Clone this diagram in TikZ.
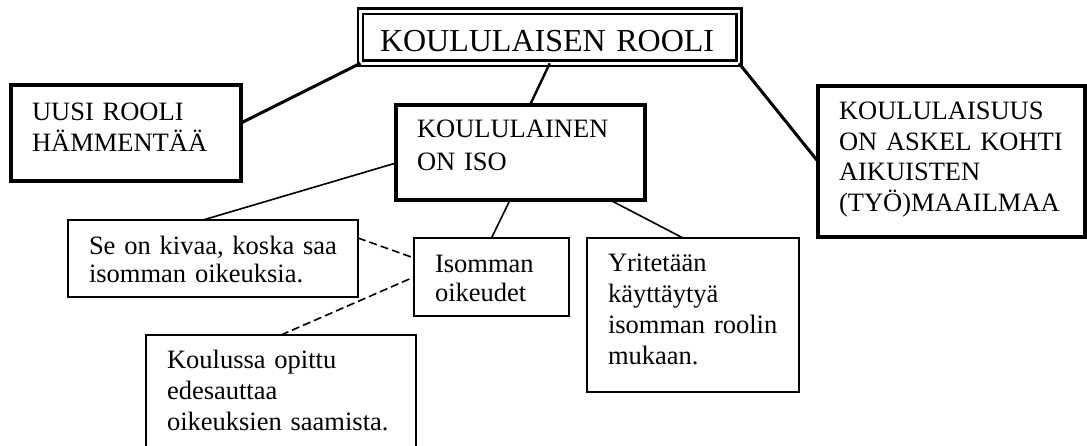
\documentclass[tikz,border=0pt]{standalone}
\usepackage{fontspec}
\setmainfont{Liberation Serif}
\begin{document}
\begin{tikzpicture}[x=1pt,y=-1pt,
  bx/.style={draw, rectangle, anchor=north west, inner xsep=21pt, inner ysep=0pt,
    outer sep=0pt, align=left, font=\fontsize{26.5}{31}\selectfont},
  thickbx/.style={bx, line width=3.5pt},
  thinbx/.style={bx, line width=1.6pt},
  titlebx/.style={draw, rectangle, anchor=north west, inner xsep=19.5pt, inner ysep=0pt,
    outer sep=0pt, align=left, double, double distance=2.7pt, line width=2.5pt,
    font=\fontsize{32}{38}\selectfont},
  heavylink/.style={line width=3pt},
  midlink/.style={line width=2.4pt},
  thinlink/.style={line width=1.6pt},
  dashlink/.style={line width=1.6pt, dash pattern=on 8pt off 4pt}
]
\useasboundingbox (0,0) rectangle (1087,446);
\clip (0,0) rectangle (1087,446);

\node[titlebx, text width=339.5pt, text height=40.7pt, text depth=11.3pt] (title) at (360.5,11.3)
  {\mbox{KOULULAISEN ROOLI}};

\node[thickbx, text width=188pt, text height=36pt, text depth=60pt] (uusi) at (11,85)
  {\mbox{UUSI ROOLI}\\\mbox{HÄMMENTÄÄ}};

\node[thickbx, text width=207pt, text height=33pt, text depth=62pt,
  font=\fontsize{26.5}{32.5}\selectfont] (mid) at (396,105)
  {\mbox{KOULULAINEN}\\\mbox{ON ISO}};

\node[thickbx, text width=225pt, text height=34pt, text depth=117pt,
  font=\fontsize{26.5}{30.5}\selectfont] (right) at (818,86)
  {\mbox{KOULULAISUUS}\\\mbox{ON ASKEL KOHTI}\\\mbox{AIKUISTEN}\\\mbox{(TYÖ)MAAILMAA}};

\node[thinbx, text width=248pt, text height=35pt, text depth=42pt,
  font=\fontsize{26.5}{28}\selectfont] (seon) at (68,220)
  {\mbox{Se on kivaa, koska saa}\\\mbox{isomman oikeuksia.}};

\node[thinbx, text width=113pt, text height=35pt, text depth=43pt,
  font=\fontsize{26.5}{29}\selectfont] (isomman) at (414,238)
  {\mbox{Isomman}\\\mbox{oikeudet}};

\node[thinbx, text width=170pt, text height=34pt, text depth=120pt] (yrit) at (587,238)
  {\mbox{Yritetään}\\\mbox{käyttäytyä}\\\mbox{isomman roolin}\\\mbox{mukaan.}};

\node[thinbx, text width=228pt, text height=33pt, text depth=97pt] (koulussa) at (146,335)
  {\mbox{Koulussa opittu}\\\mbox{edesauttaa}\\\mbox{oikeuksien saamista.}};

\draw[heavylink] (title.south west) -- ([yshift=10pt]uusi.east);
\draw[midlink] (title.south) -- ([xshift=9.5pt]mid.north);
\draw[heavylink] (title.south east) -- (right.west);
\draw[thinlink] ([yshift=-10.5pt]mid.west) -- ([xshift=-10pt]seon.north);
\draw[thinlink] ([xshift=-10.5pt]mid.south) -- (isomman.north);
\draw[thinlink] ([xshift=89.5pt]mid.south) -- ([xshift=-10pt]yrit.north);
\draw[dashlink] ([yshift=20.5pt]seon.east) -- ([yshift=19pt]isomman.west);
\draw[dashlink] (koulussa.north) -- (isomman.west);
\end{tikzpicture}
\end{document}
